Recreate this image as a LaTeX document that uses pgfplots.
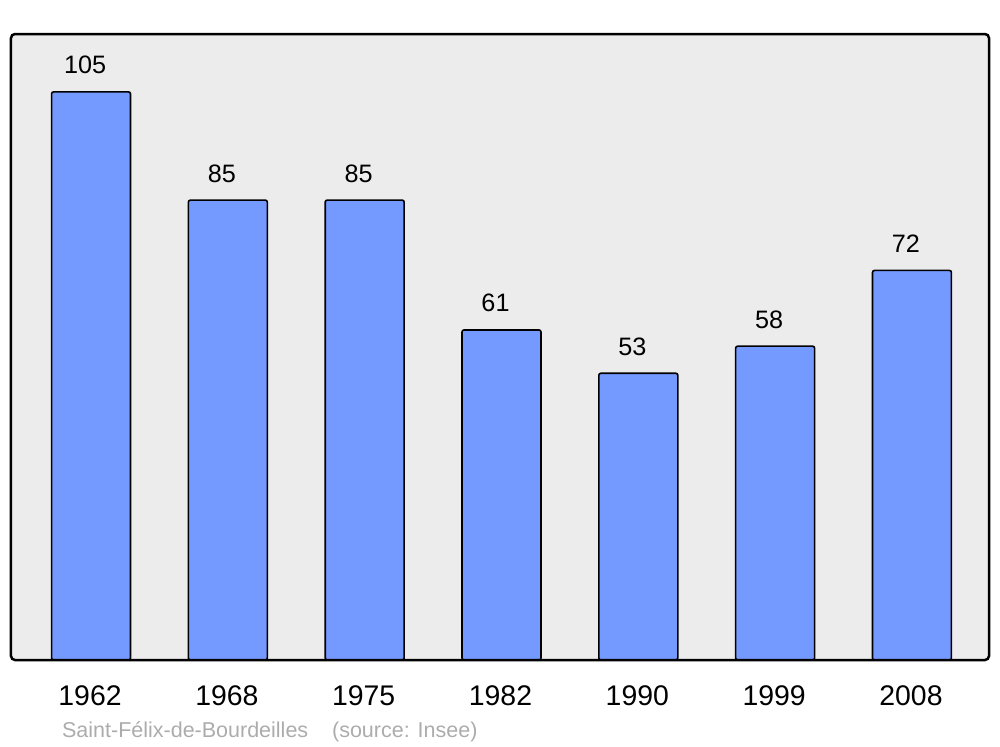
\documentclass[border=0pt]{standalone}
\usepackage{fontspec}
\setmainfont{Liberation Sans}
\usepackage{pgfplots}
\pgfplotsset{compat=1.18}
\definecolor{barc}{RGB}{116,153,255}
\definecolor{bgc}{RGB}{236,236,236}
\definecolor{srcc}{RGB}{172,172,172}
\begin{document}
\begin{tikzpicture}
\begin{axis}[
  scale only axis,
  width=489pt, height=313pt,
  xmin=-0.585, xmax=6.563,
  ymin=0, ymax=115.7,
  axis line style={draw=none},
  clip=false,
  /pgf/number format/assume math mode=true,
  ybar, bar width=0.577,
  xtick={0,1,2,3,4,5,6},
  xticklabels={1962,1968,1975,1982,1990,1999,2008},
  ytick=\empty,
  major tick length=0pt,
  xtick style={draw=none},
  xticklabel style={anchor=base, yshift=-22.5pt, xshift=-0.5pt, inner sep=0pt, font=\fontsize{14.2pt}{16pt}\selectfont},
  nodes near coords,
  every node near coord/.append style={anchor=base, yshift=9pt, xshift=-3pt, inner sep=0pt, font=\fontsize{12.6pt}{14pt}\selectfont, black},
]
\fill[bgc, rounded corners=2pt] (rel axis cs:0,0) rectangle (rel axis cs:1,1);
\addplot[draw=black, line width=0.8pt, fill=barc, rounded corners=1pt] coordinates {
  (0,105) (1,85) (2,85) (3,61) (4,53) (5,58) (6,72)
};
\draw[black, line width=1.25pt, rounded corners=2pt] (rel axis cs:0,0) rectangle (rel axis cs:1,1);
\node[anchor=base west, inner sep=0pt, text=srcc, font=\fontsize{10.75pt}{12pt}\selectfont] at ([xshift=25.35pt, yshift=-38.5pt]rel axis cs:0,0) {Saint-Félix-de-Bourdeilles};
\node[anchor=base west, inner sep=0pt, text=srcc, font=\fontsize{10.75pt}{12pt}\selectfont] at ([xshift=160.35pt, yshift=-38.5pt]rel axis cs:0,0) {(source: Insee)};
\end{axis}
\path ([xshift=-5.5pt, yshift=-43.5pt]current axis.south west) rectangle ([xshift=5.5pt, yshift=17pt]current axis.north east);
\end{tikzpicture}
\end{document}
